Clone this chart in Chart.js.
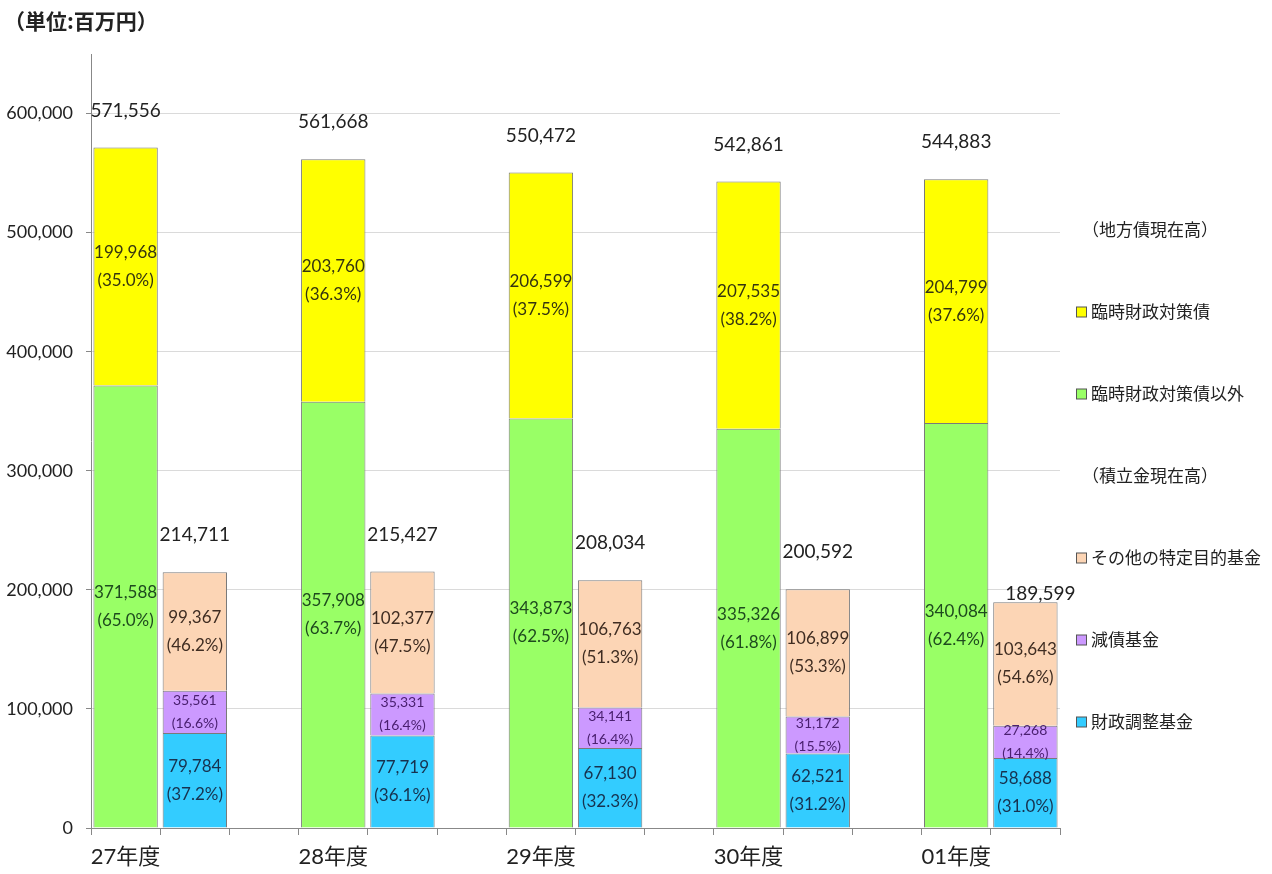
<!DOCTYPE html>
<html>
<head>
<meta charset="utf-8">
<script src="https://cdn.jsdelivr.net/npm/chart.js@4/dist/chart.umd.min.js"></script>
<style>
  body { margin: 0; background: #fff; }
  #wrap { position: relative; width: 1272px; height: 874px; }
  #title { position: absolute; left: 4px; top: 5px; font: bold 21px "Noto Sans CJK JP", sans-serif; color: #222; }
</style>
</head>
<body>
<div id="wrap">
  <div id="title">（単位:百万円）</div>
  <canvas id="chart" width="1272" height="874"></canvas>
</div>
<script>
// 年度
const years = ['27年度', '28年度', '29年度', '30年度', '01年度'];

// 地方債現在高
const rinjiIgai = [371588, 357908, 343873, 335326, 340084];   // 臨時財政対策債以外
const rinjiIgaiPct = [65.0, 63.7, 62.5, 61.8, 62.4];
const rinji = [199968, 203760, 206599, 207535, 204799];       // 臨時財政対策債
const rinjiPct = [35.0, 36.3, 37.5, 38.2, 37.6];
const debtTotals = [571556, 561668, 550472, 542861, 544883];

// 積立金現在高
const zaisei = [79784, 77719, 67130, 62521, 58688];           // 財政調整基金
const zaiseiPct = [37.2, 36.1, 32.3, 31.2, 31.0];
const gensai = [35561, 35331, 34141, 31172, 27268];           // 減債基金
const gensaiPct = [16.6, 16.4, 16.4, 15.5, 14.4];
const sonota = [99367, 102377, 106763, 106899, 103643];       // その他の特定目的基金
const sonotaPct = [46.2, 47.5, 51.3, 53.3, 54.6];
const fundTotals = [214711, 215427, 208034, 200592, 189599];

const yTicks = [0, 100000, 200000, 300000, 400000, 500000, 600000];

// each year takes three slots: debt bar, fund bar, gap (no gap after the last)
const slots = [];
years.forEach(y => slots.push(y, '', ''));
slots.length = years.length * 3 - 1;

function place(values, offset) {
  const arr = new Array(slots.length).fill(null);
  values.forEach((v, i) => { arr[i * 3 + offset] = v; });
  return arr;
}

const numFont = 'Lato, "Noto Sans CJK JP", sans-serif';
const fmt = v => v.toLocaleString('en-US');

const datasets = [
  { label: '臨時財政対策債以外', data: place(rinjiIgai, 0), pct: rinjiIgaiPct, backgroundColor: '#99FF66', textColor: '#1e4a1e', size: 17 },
  { label: '臨時財政対策債', data: place(rinji, 0), pct: rinjiPct, backgroundColor: '#FFFF00', textColor: '#353510', size: 17, totals: debtTotals },
  { label: '財政調整基金', data: place(zaisei, 1), pct: zaiseiPct, backgroundColor: '#33CCFF', textColor: '#17324f', size: 17 },
  { label: '減債基金', data: place(gensai, 1), pct: gensaiPct, backgroundColor: '#CC99FF', textColor: '#4a2070', size: 14 },
  { label: 'その他の特定目的基金', data: place(sonota, 1), pct: sonotaPct, backgroundColor: '#FCD5B5', textColor: '#3f2d22', size: 17, totals: fundTotals }
];
datasets.forEach(d => {
  d.borderColor = '#7a7a7a';
  d.borderWidth = 1;
  d.barPercentage = 0.93;
  d.categoryPercentage = 1;
});

const labelPlugin = {
  id: 'labels',
  afterDatasetsDraw(chart) {
    const ctx = chart.ctx;
    ctx.save();
    ctx.textAlign = 'center';
    ctx.textBaseline = 'middle';
    chart.data.datasets.forEach((ds, di) => {
      const meta = chart.getDatasetMeta(di);
      meta.data.forEach((el, idx) => {
        const v = ds.data[idx];
        if (v == null) return;
        const yr = Math.floor(idx / 3);
        const cy = (el.y + el.base) / 2;
        const gap = ds.size > 15 ? 14 : 11.5;
        ctx.fillStyle = ds.textColor;
        ctx.font = ds.size + 'px ' + numFont;
        ctx.fillText(fmt(v), el.x, cy - gap);
        ctx.fillText('(' + ds.pct[yr].toFixed(1) + '%)', el.x, cy + gap);
        if (ds.totals) {
          ctx.fillStyle = '#222';
          ctx.font = '19px ' + numFont;
          let tx = el.x, ty = el.y - 37;
          // last fund total sits just above its bar in the original
          if (yr === years.length - 1 && ds.totals === fundTotals) { tx += 15; ty = el.y - 8; }
          ctx.fillText(fmt(ds.totals[yr]), tx, ty);
        }
      });
    });
    ctx.restore();
  }
};

const legendPlugin = {
  id: 'sideLegend',
  afterDraw(chart) {
    const ctx = chart.ctx;
    const ds = chart.data.datasets;
    const rows = [
      { head: '（地方債現在高）' },
      { d: ds[1] }, { d: ds[0] },
      { head: '（積立金現在高）' },
      { d: ds[4] }, { d: ds[3] }, { d: ds[2] }
    ];
    ctx.save();
    ctx.font = '17px "Noto Sans CJK JP", sans-serif';
    ctx.textBaseline = 'middle';
    let y = 230;
    rows.forEach(r => {
      if (r.head) {
        ctx.fillStyle = '#222';
        ctx.fillText(r.head, 1082, y);
      } else {
        ctx.fillStyle = r.d.backgroundColor;
        ctx.fillRect(1076.5, y - 5, 10, 10);
        ctx.strokeStyle = '#555';
        ctx.lineWidth = 1;
        ctx.strokeRect(1076.5, y - 5, 10, 10);
        ctx.fillStyle = '#222';
        ctx.fillText(r.d.label, 1091, y);
      }
      y += 82;
    });
    ctx.restore();
  }
};

new Chart(document.getElementById('chart'), {
  type: 'bar',
  data: { labels: slots, datasets: datasets },
  options: {
    responsive: false,
    devicePixelRatio: 1,
    animation: false,
    layout: { padding: { top: 54, right: 212, left: 0, bottom: 0 } },
    plugins: { legend: { display: false }, tooltip: { enabled: false } },
    scales: {
      x: {
        stacked: true,
        afterFit(s) { s.height = 46; },
        grid: { drawOnChartArea: false, offset: true, tickLength: 7, tickColor: '#888' },
        border: { color: '#888' },
        ticks: { autoSkip: false, maxRotation: 0, padding: 9, color: '#222', font: { size: 22, family: numFont } }
      },
      y: {
        stacked: true,
        min: 0,
        max: 650000,
        afterFit(s) { s.width = 91; },
        afterBuildTicks(s) { s.ticks = yTicks.map(v => ({ value: v })); },
        grid: { color: '#dadada', tickLength: 5, tickColor: '#888' },
        border: { color: '#888' },
        ticks: { padding: 13, color: '#222', font: { size: 18, family: numFont }, callback: v => fmt(v) }
      }
    }
  },
  plugins: [labelPlugin, legendPlugin]
});
</script>
</body>
</html>
